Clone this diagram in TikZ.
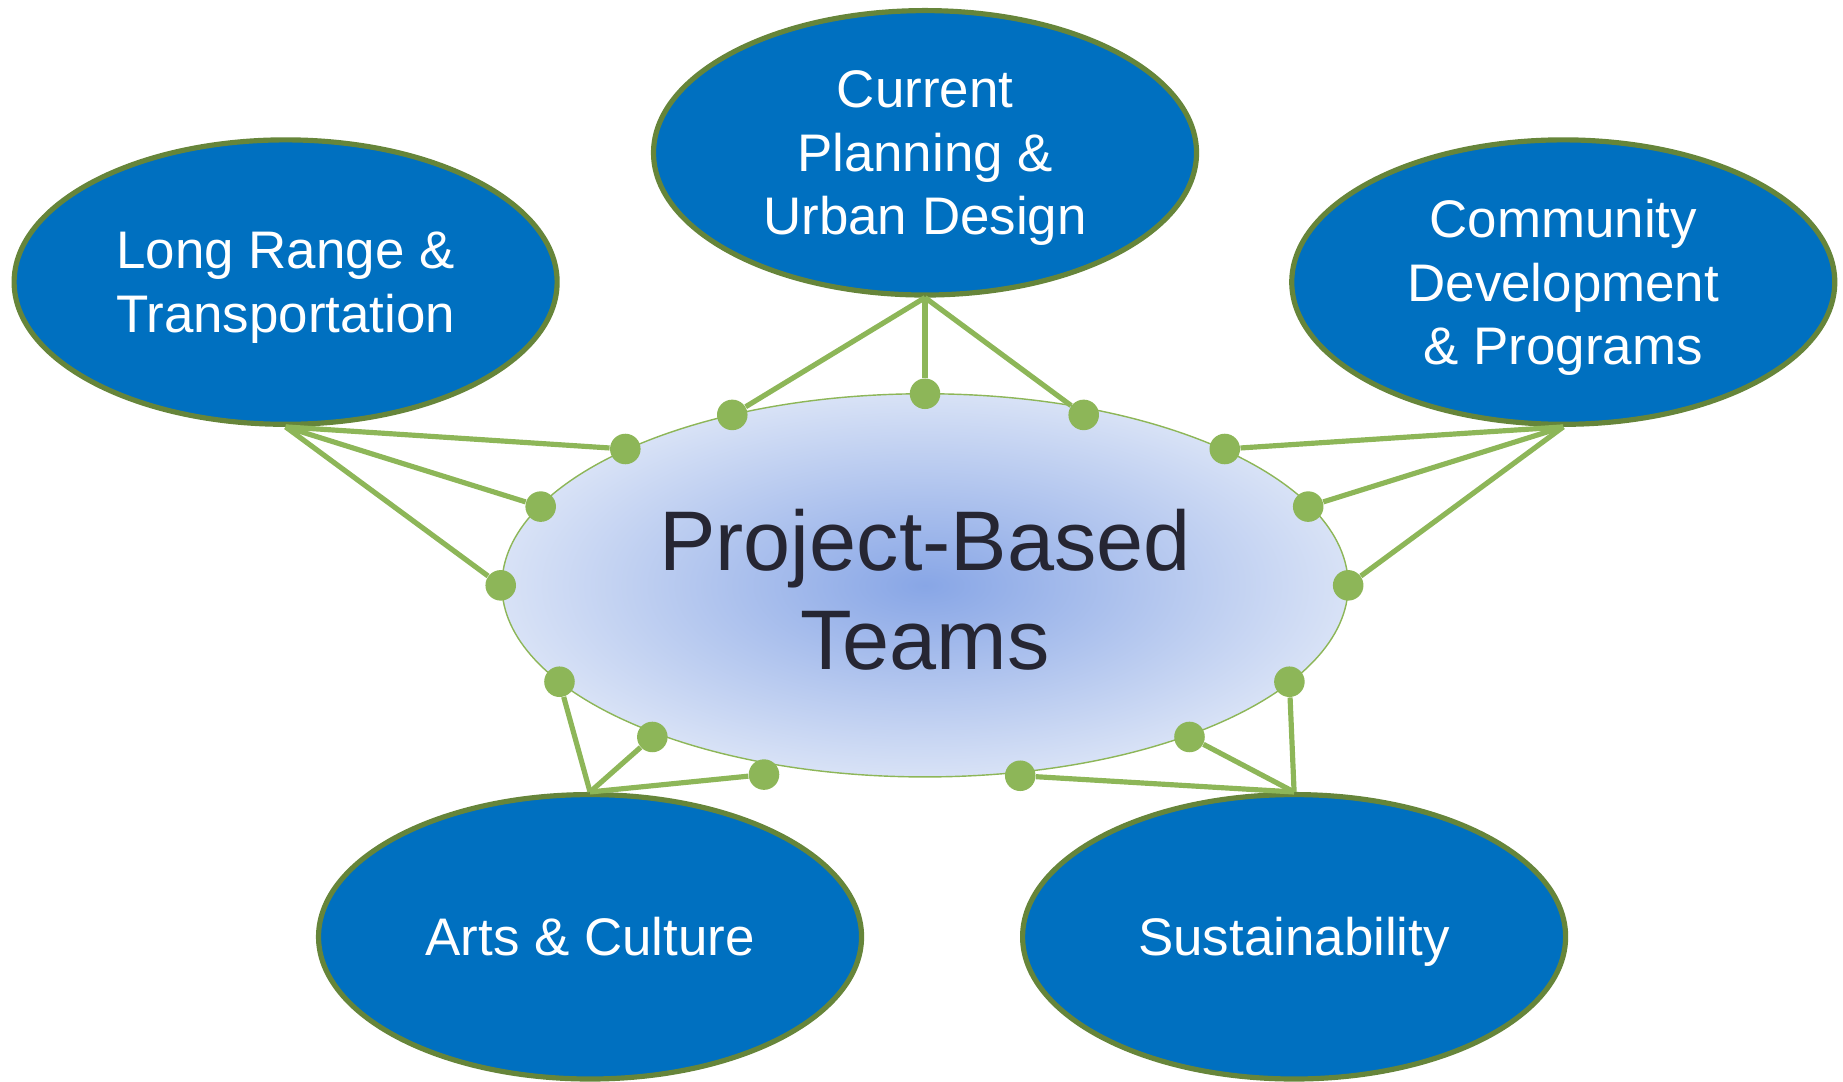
\documentclass[tikz,border=0pt]{standalone}
\usepackage{fontspec}
\setmainfont{Liberation Sans}
\usetikzlibrary{shapes.geometric}
\definecolor{nodeblue}{HTML}{0070C0}
\definecolor{borderg}{HTML}{66853A}
\definecolor{lineg}{HTML}{8DB658}
\definecolor{ctrin}{RGB}{136,166,230}
\definecolor{ctrout}{RGB}{216,226,246}
\definecolor{ctrtext}{HTML}{262633}
\begin{document}
\begin{tikzpicture}[x=0.5pt,y=-0.5pt,
  team/.style={ellipse, draw=borderg, line width=2.2pt, fill=nodeblue, text=white,
    minimum width=231pt, minimum height=121pt, inner sep=0pt, align=center,
    text depth=0pt, font=\fontsize{22.5}{27}\selectfont},
  hub/.style={ellipse, draw=lineg, line width=0.6pt, inner color=ctrin, outer color=ctrout,
    minimum width=360pt, minimum height=163pt, inner sep=0pt, align=center, text=ctrtext,
    text height=72pt, text depth=0pt, font=\fontsize{36}{42.5}\selectfont},
  link/.style={draw=lineg, line width=2.2pt},
  dot/.style={circle, fill=lineg, minimum size=13pt, inner sep=0pt}]
\useasboundingbox (0,0) rectangle (1568,920);

\node[hub] (pbt) at (787,498) {Project-Based\\Teams};

\node[team] (cp) at (787,130) {Current\\Planning \&\\Urban Design};
\node[team] (lr) at (243,240) {Long Range \&\\Transportation};
\node[team] (cd) at (1330,240) {Community\\Development\\\& Programs};
\node[team] (ac) at (502,797) {Arts \& Culture};
\node[team] (su) at (1101,797) {Sustainability};

% dots on the hub
\node[dot] (cp1) at (623,353) {};
\node[dot] (cp2) at (787,335) {};
\node[dot] (cp3) at (922,353) {};
\node[dot] (lr1) at (532,382) {};
\node[dot] (lr2) at (460,431) {};
\node[dot] (lr3) at (426,498) {};
\node[dot] (cd1) at (1042,382) {};
\node[dot] (cd2) at (1113,431) {};
\node[dot] (cd3) at (1147,498) {};
\node[dot] (ac1) at (476,580) {};
\node[dot] (ac2) at (555,627) {};
\node[dot] (ac3) at (650,659) {};
\node[dot] (su1) at (1097,580) {};
\node[dot] (su2) at (1012,627) {};
\node[dot] (su3) at (868,660) {};

\foreach \d in {cp1,cp2,cp3} \draw[link] (cp.south) -- (\d);
\foreach \d in {lr1,lr2,lr3} \draw[link] (lr.south) -- (\d);
\foreach \d in {cd1,cd2,cd3} \draw[link] (cd.south) -- (\d);
\foreach \d in {ac1,ac2,ac3} \draw[link] (ac.north) -- (\d);
\foreach \d in {su1,su2,su3} \draw[link] (su.north) -- (\d);
\end{tikzpicture}
\end{document}
